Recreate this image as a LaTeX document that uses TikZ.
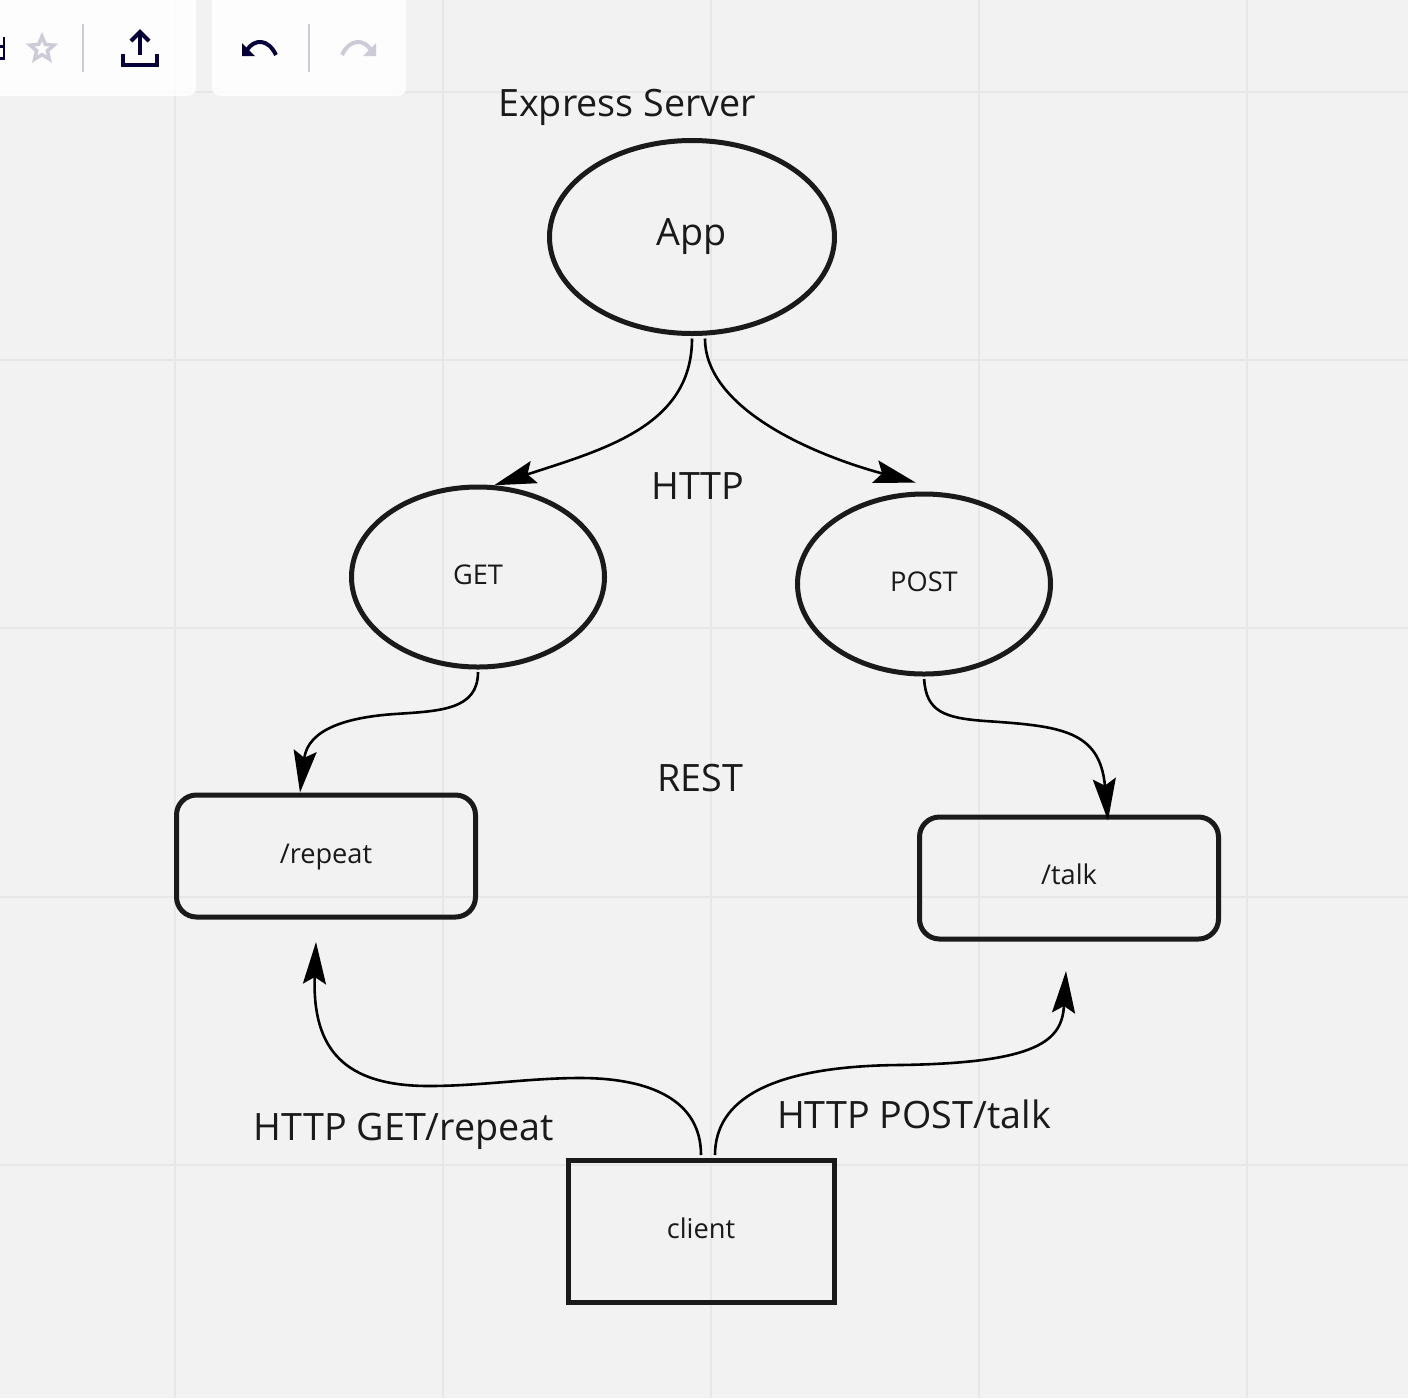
\documentclass[tikz,border=0pt]{standalone}
\usepackage{fontspec}
\setmainfont{Open Sans}
\usetikzlibrary{arrows.meta, shapes.geometric}

\definecolor{boardbg}{HTML}{F2F2F2}
\definecolor{gridline}{HTML}{E7E7E7}
\definecolor{inkline}{HTML}{1A1A1A}
\definecolor{toolnavy}{HTML}{050038}
\definecolor{toolgrey}{HTML}{CDCBD8}

\tikzset{
  blob/.style = {draw = inkline, line width = 5pt, ellipse, inner sep = 0pt},
  boxy/.style = {draw = inkline, line width = 5pt, rounded corners = 20pt, inner sep = 0pt},
  caption/.style = {text = inkline, font = \fontsize{37.7}{37.7}\selectfont, inner sep = 0pt},
  small/.style = {text = inkline, font = \fontsize{27.2}{27.2}\selectfont},
  flow/.style = {line width = 2.6pt, black, shorten < = 2.5pt, -{Stealth[length = 42pt, width = 23pt, inset = 7pt]}},
  tool/.style = {line width = 4pt, toolnavy}
}

\begin{document}
\begin{tikzpicture}[x = 1pt, y = -1pt]
 \useasboundingbox (0,0) rectangle (1408,1398);
 \fill[boardbg] (0,0) rectangle (1408,1398);

 % board grid
 \foreach \gx in {175, 443, 711, 979, 1247}
   \draw[gridline, line width = 2pt] (\gx,0) -- (\gx,1398);
 \foreach \gy in {92, 360, 628, 897, 1165}
   \draw[gridline, line width = 2pt] (0,\gy) -- (1408,\gy);

 % toolbar
 \fill[white, opacity = .85, rounded corners = 8pt] (-20,-20) rectangle (196,96);
 \fill[white, opacity = .85, rounded corners = 8pt] (212,-20) rectangle (406,96);
 \draw[toolgrey, line width = 2pt] (83,24) -- (83,72);
 \draw[toolgrey, line width = 2pt] (309,24) -- (309,72);
 \fill[toolnavy] (2.5,37) rectangle (5,60);
 \fill[toolnavy] (0,45) rectangle (3,48);
 \fill[toolnavy] (0,57) rectangle (3,60);
 \node[star, star points = 5, star point ratio = 2.2, draw = toolgrey, line width = 3.5pt, minimum size = 25pt, inner sep = 0pt] (favstar) at (42,49) {};
 \draw[tool] (140,55) -- (140,32);
 \draw[tool] (131,41) -- (140,32) -- (149,41);
 \draw[tool] (123,54) -- (123,65) -- (157,65) -- (157,54);
 \draw[tool] (276,55) .. controls (268,38) and (254,39) .. (247,50);
 \fill[toolnavy] (242,43) -- (242,56) -- (255,56) -- cycle;
 \draw[toolgrey, line width = 4pt] (342,55) .. controls (350,38) and (364,39) .. (371,50);
 \fill[toolgrey] (376,43) -- (376,56) -- (363,56) -- cycle;

 % nodes
 \node[blob, minimum width = 285pt, minimum height = 193pt] (app) at (692,237) {};
 \node[caption] (applabel) at (692,237) {App};
 \node[blob, minimum width = 253pt, minimum height = 180pt] (get) at (478,577) {};
 \node[small] (getlabel) at (478,575) {GET};
 \node[blob, minimum width = 253pt, minimum height = 180pt] (post) at (924,584) {};
 \node[small] (postlabel) at (924,582) {POST};
 \node[boxy, minimum width = 299pt, minimum height = 122pt] (repeat) at (326,856) {};
 \node[small] (repeatlabel) at (326,857) {/repeat};
 \node[boxy, minimum width = 299pt, minimum height = 122pt] (talk) at (1069,878) {};
 \node[small] (talklabel) at (1069,874) {/talk};
 \node[draw = inkline, line width = 5pt, minimum width = 266pt, minimum height = 142pt, inner sep = 0pt] (client) at (701,1231) {};
 \node[small] (clientlabel) at (701,1228) {client};

 % free ends below the two boxes
 \coordinate (repeatend) at (316,942);
 \coordinate (talkend) at (1066,971);

 % arrows
 \draw[flow] (app.south) .. controls +(0,90) and +(110,-36) .. (get.80);
 \draw[flow] ([xshift = 13pt]app.south) .. controls +(0,70) and +(-110,-30) .. ([yshift = 9pt]post.95);
 \draw[flow] (get.south) .. controls (478,710) and (440,711) .. (395,714)
   .. controls (350,717) and (308,728) .. ([xshift = -26pt]repeat.north);
 \draw[flow] (post.south) .. controls (926,712) and (945,718) .. (985,721)
   .. controls (1060,726) and (1100,730) .. ([xshift = 39pt, yshift = -6pt]talk.north);
 \draw[flow] (client.north) .. controls (701,1100) and (650,1078) .. (580,1078)
   .. controls (530,1078) and (480,1086) .. (429,1086)
   .. controls (345,1086) and (312,1050) .. (repeatend);
 \draw[flow] ([xshift = 14pt]client.north) .. controls (715,1100) and (770,1066) .. (900,1065)
   .. controls (1040,1063) and (1062,1040) .. (talkend);

 % labels
 \node[caption, anchor = west] (server) at (498,107) {Express Server};
 \node[caption] (http) at (698,486) {HTTP};
 \node[caption] (rest) at (700,778) {REST};
 \node[caption] (getreq) at (404,1131) {HTTP GET/repeat};
 \node[caption] (postreq) at (914,1114) {HTTP POST/talk};
\end{tikzpicture}
\end{document}
